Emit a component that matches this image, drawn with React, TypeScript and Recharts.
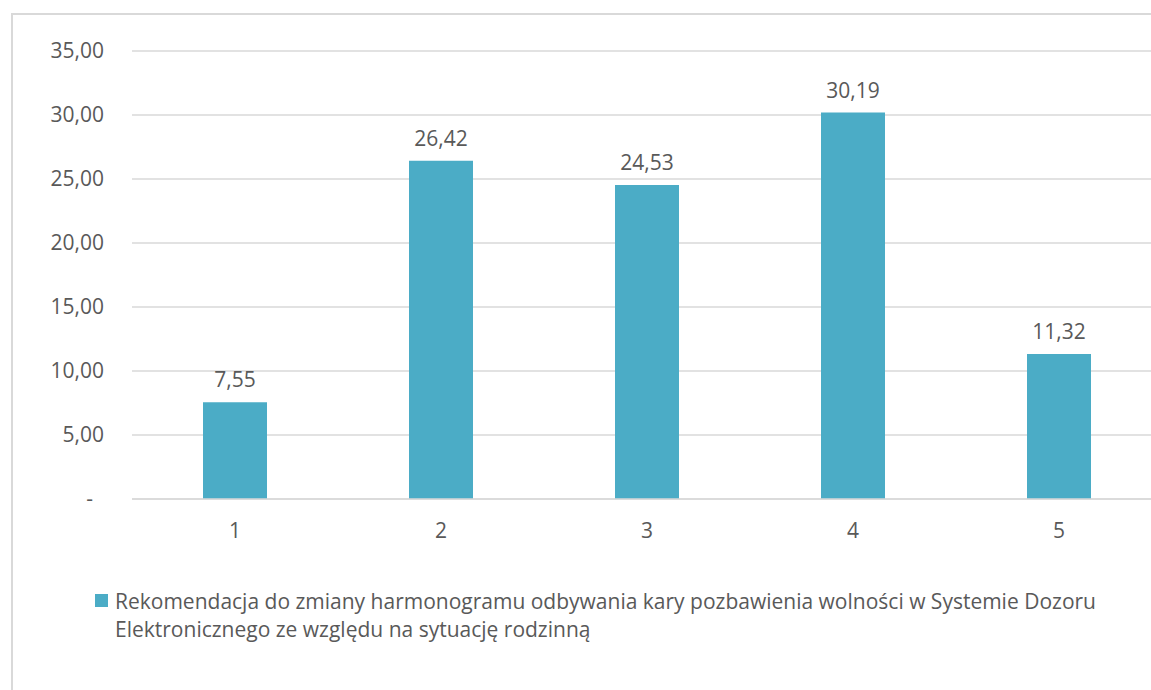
import { BarChart, Bar, XAxis, YAxis, CartesianGrid, LabelList } from 'recharts';

const CATEGORIES = ['1', '2', '3', '4', '5'];
const VALUES = [7.55, 26.42, 24.53, 30.19, 11.32];
const Y_TICKS = [0, 5, 10, 15, 20, 25, 30, 35];
const SERIES_NAME =
  'Rekomendacja do zmiany harmonogramu odbywania kary pozbawienia wolności w Systemie Dozoru Elektronicznego ze względu na sytuację rodzinną';
const LEGEND_LINES = [
  'Rekomendacja do zmiany harmonogramu odbywania kary pozbawienia wolności w Systemie Dozoru',
  'Elektronicznego ze względu na sytuację rodzinną',
];

const BAR_COLOR = '#4BACC6';
const TEXT = '#595959';
const GRID = '#d9d9d9';
const FONT = '"Open Sans", sans-serif';
const FS = 21;

const data = CATEGORIES.map((c, i) => ({ cat: c, value: VALUES[i] }));

const fmt = (v: number) => (v === 0 ? '-\u00a0\u00a0' : v.toFixed(2).replace('.', ','));

export default function App() {
  return (
    <div
      style={{
        position: 'fixed',
        left: 0,
        top: 0,
        width: 1151,
        height: 690,
        overflow: 'hidden',
        background: '#fff',
        fontFamily: FONT,
      }}
    >
      <div
        style={{
          position: 'absolute',
          left: 11,
          top: 13,
          width: 1200,
          height: 720,
          border: `2px solid ${GRID}`,
          boxSizing: 'border-box',
        }}
      />
      <div style={{ position: 'absolute', left: 0, top: 0 }}>
        <BarChart
          width={1180}
          height={690}
          data={data}
          margin={{ top: 51, right: 18, left: 0, bottom: 151 }}
          barSize={64}
        >
          <CartesianGrid vertical={false} stroke={GRID} strokeWidth={1.5} />
          <XAxis
            dataKey="cat"
            height={40}
            axisLine={{ stroke: GRID, strokeWidth: 1.5 }}
            tickLine={false}
            tickSize={8}
            tickMargin={16}
            tick={{ fill: TEXT, fontSize: FS, fontFamily: FONT }}
          />
          <YAxis
            width={132}
            domain={[0, 35]}
            ticks={Y_TICKS}
            interval={0}
            axisLine={false}
            tickLine={false}
            tickSize={8}
            tickMargin={20}
            tickFormatter={fmt}
            tick={{ fill: TEXT, fontSize: FS, fontFamily: FONT }}
          />
          <Bar dataKey="value" name={SERIES_NAME} fill={BAR_COLOR} isAnimationActive={false}>
            <LabelList
              dataKey="value"
              position="top"
              offset={15}
              formatter={(v: number) => fmt(v)}
              style={{ fill: TEXT, fontSize: FS, fontFamily: FONT }}
            />
          </Bar>
        </BarChart>
      </div>
      <div
        style={{
          position: 'absolute',
          left: 95,
          top: 587,
          display: 'flex',
          alignItems: 'flex-start',
          color: TEXT,
          fontSize: FS,
          lineHeight: '28px',
        }}
      >
        <span
          style={{
            display: 'inline-block',
            width: 13,
            height: 13,
            background: BAR_COLOR,
            marginTop: 7,
            marginRight: 7,
            flex: 'none',
          }}
        />
        <div>
          {LEGEND_LINES.map((l) => (
            <div key={l} style={{ whiteSpace: 'nowrap' }}>
              {l}
            </div>
          ))}
        </div>
      </div>
    </div>
  );
}
